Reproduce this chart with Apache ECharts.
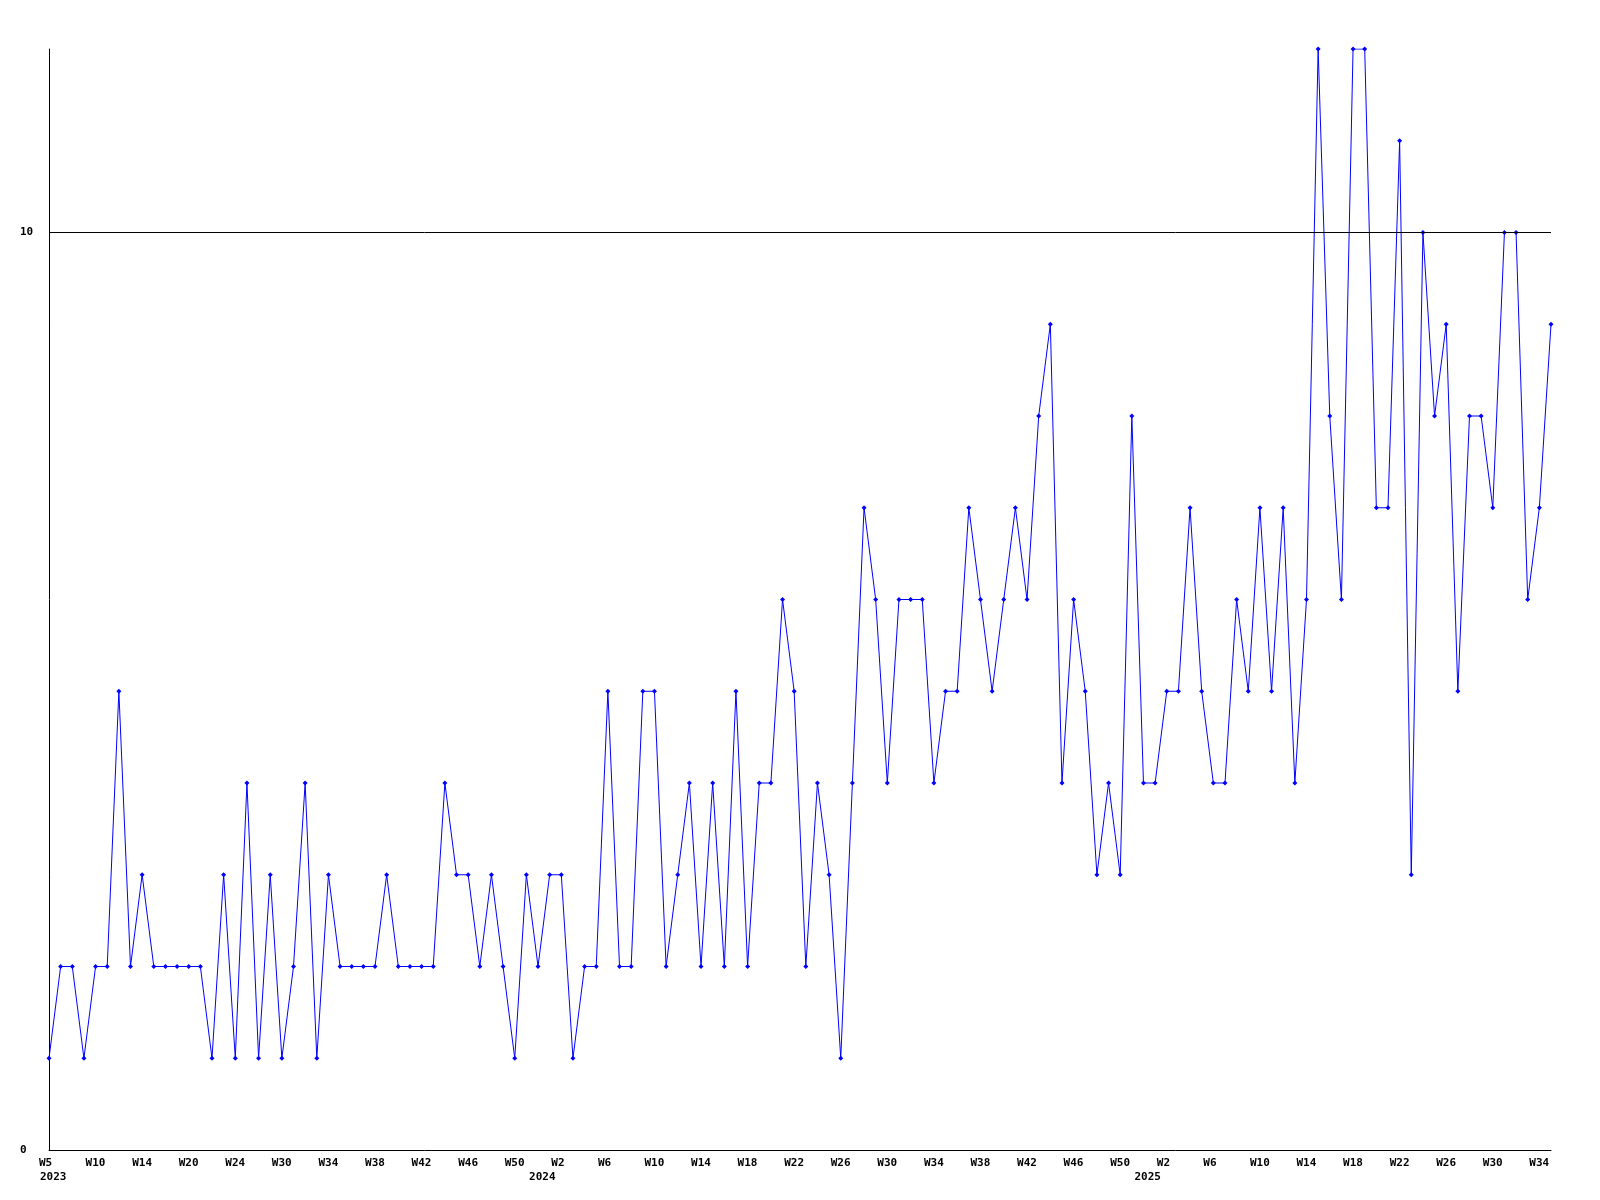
<!DOCTYPE html>
<html>
<head>
<meta charset="utf-8">
<script src="https://cdn.jsdelivr.net/npm/echarts@6/dist/echarts.min.js"></script>
<style>
html,body{margin:0;padding:0;background:#fff;}
#chart{width:1600px;height:1200px;}
</style>
</head>
<body>
<div id="chart"></div>
<script>
// Weekly values, one per week starting at W5 2023
const values = [
  1,2,2,1,2,2,5,2,3,2,
  2,2,2,2,1,3,1,4,1,3,
  1,2,4,1,3,2,2,2,2,3,
  2,2,2,2,4,3,3,2,3,2,
  1,3,2,3,3,1,2,2,5,2,
  2,5,5,2,3,4,2,4,2,5,
  2,4,4,6,5,2,4,3,1,4,
  7,6,4,6,6,6,4,5,5,7,
  6,5,6,7,6,8,9,4,6,5,
  3,4,3,8,4,4,5,5,7,5,
  4,4,6,5,7,5,7,4,6,12,
  8,6,12,12,7,7,11,3,10,8,
  9,5,8,8,7,10,10,6,7,9
];
// Tick labels shown every 4th week
const weekTickLabels = ['W5','W10','W14','W20','W24','W30','W34','W38','W42','W46','W50',
  'W2','W6','W10','W14','W18','W22','W26','W30','W34','W38','W42','W46','W50',
  'W2','W6','W10','W14','W18','W22','W26','W30','W34'];
const yearLabelIndex = [0, 42, 94];
const yearLabelText = ['2023', '2024', '2025'];
const yLabels = [0, 10];
const refLineValue = 10;

const categories = values.map((_, i) => String(i));
const font = {fontFamily: 'DejaVu Sans Mono', fontWeight: 'bold', fontSize: 11, color: '#000'};

const chart = echarts.init(document.getElementById('chart'), null, {renderer: 'canvas'});
chart.setOption({
  animation: false,
  backgroundColor: '#fff',
  grid: {left: 49, right: 49, top: 49, bottom: 50, containLabel: false},
  xAxis: [{
    type: 'category',
    data: categories,
    boundaryGap: false,
    axisLine: {show: true, lineStyle: {color: '#000', width: 1}},
    axisTick: {show: false},
    splitLine: {show: false},
    axisLabel: Object.assign({
      interval: 3,
      margin: 8,
      align: 'left',
      padding: [0, 0, 0, -10],
      formatter: (v, i) => (i % 4 === 0 && weekTickLabels[i / 4]) ? weekTickLabels[i / 4] : ''
    }, font)
  }, {
    type: 'category',
    data: categories,
    boundaryGap: false,
    position: 'bottom',
    offset: 14,
    axisLine: {show: false},
    axisTick: {show: false},
    splitLine: {show: false},
    axisLabel: Object.assign({
      interval: (i) => yearLabelIndex.indexOf(i) >= 0,
      margin: 8,
      align: 'left',
      padding: [0, 0, 0, -9],
      formatter: (v, i) => {
        const k = yearLabelIndex.indexOf(i);
        return k >= 0 ? yearLabelText[k] : '';
      }
    }, font)
  }],
  yAxis: {
    type: 'value',
    min: 0,
    max: 12,
    interval: 2,
    axisLine: {show: true, lineStyle: {color: '#000', width: 1}},
    axisTick: {show: false},
    splitLine: {show: false},
    axisLabel: Object.assign({
      align: 'left',
      margin: 29,
      showMaxLabel: false,
      formatter: (v) => yLabels.indexOf(v) >= 0 ? String(v) : ''
    }, font)
  },
  series: [{
    type: 'line',
    data: values,
    xAxisIndex: 0,
    symbol: 'diamond',
    symbolSize: 5,
    showAllSymbol: true,
    itemStyle: {color: '#0000ff'},
    lineStyle: {color: '#0000ff', width: 1},
    markLine: {
      silent: true,
      symbol: ['none', 'none'],
      label: {show: false},
      lineStyle: {color: '#000', width: 1, type: 'solid'},
      data: [{yAxis: refLineValue}]
    }
  }]
});
</script>
</body>
</html>
